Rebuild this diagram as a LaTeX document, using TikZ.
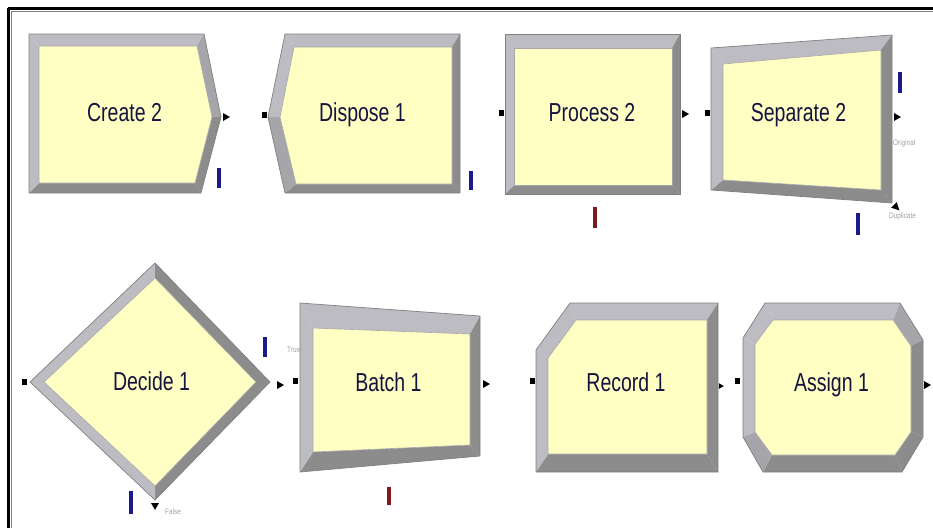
\documentclass[tikz,border=0pt]{standalone}
\usepackage{fontspec}
\usepackage{graphicx}
\setmainfont{Liberation Sans}
\definecolor{bevlite}{HTML}{BCBCC2}
\definecolor{bevmid}{HTML}{A6A6AA}
\definecolor{bevdark}{HTML}{8C8C8C}
\definecolor{facey}{HTML}{FFFFC4}
\definecolor{rimg}{HTML}{808080}
\definecolor{labelc}{HTML}{14143E}
\definecolor{barblue}{HTML}{1A1A8C}
\definecolor{barred}{HTML}{7A1C1C}
\definecolor{tinyg}{HTML}{A0A0A0}
\newcommand\modfont{\fontsize{26}{26}\selectfont}
\newcommand\mlab[1]{\scalebox{0.75}[1]{#1}}
\newcommand\tlab[1]{\scalebox{0.8}[1]{#1}}
\tikzset{
  lite/.style={fill=bevlite},
  mid/.style={fill=bevmid},
  dark/.style={fill=bevdark},
  face/.style={fill=facey, draw=bevmid, line width=0.6pt},
  rim/.style={draw=rimg, line width=0.7pt},
  modlabel/.style={anchor=base, text=labelc, font=\modfont, inner sep=0pt},
  portlabel/.style={anchor=west, text=tinyg, font=\fontsize{8}{8}\selectfont, inner sep=0pt},
  inport/.style={fill=black, draw=none, minimum width=5pt, minimum height=6pt, inner sep=0pt},
  pics/outarrow/.style={code={\fill[black] (-3,-4) -- (4,0) -- (-3,4) -- cycle;}},
  pics/downarrow/.style={code={\fill[black] (-4,-3) -- (4,-3) -- (0,4) -- cycle;}},
  pics/slantarrow/.style={code={\fill[black] (0.7,-4.9) -- (3.4,3.4) -- (-4.9,0.7) -- cycle;}},
  bluebar/.style={draw=barblue, line width=3.5pt},
  redbar/.style={draw=barred, line width=3.5pt},
}
\begin{document}
\begin{tikzpicture}[x=1pt,y=-1pt]
\useasboundingbox (0,0) rectangle (933,528);

% window frame
\draw[black, line width=2.5pt] (8,8.5) -- (933,8.5);
\draw[black, line width=2.5pt] (8.5,8) -- (8.5,528);
\draw[gray, line width=0.8pt] (11,11.5) -- (933,11.5);
\draw[gray, line width=0.8pt] (11.5,11) -- (11.5,528);

% ---------------- Create 2 ----------------
\fill[lite] (29,34) -- (204,34) -- (197,46) -- (39,46) -- cycle;
\fill[mid]  (204,34) -- (221,117) -- (212,117) -- (197,46) -- cycle;
\fill[dark] (221,117) -- (201,193) -- (195,183) -- (212,117) -- cycle;
\fill[dark] (201,193) -- (29,193) -- (39,183) -- (195,183) -- cycle;
\fill[lite] (29,193) -- (29,34) -- (39,46) -- (39,183) -- cycle;
\draw[face] (39,46) -- (197,46) -- (212,117) -- (195,183) -- (39,183) -- cycle;
\draw[rim] (29,34) -- (204,34) -- (221,117) -- (201,193) -- (29,193) -- cycle;
\node[modlabel] (create) at (124.5,121) {\mlab{Create 2}};
\coordinate (createout) at (226,117);
\pic at (createout) {outarrow};
\draw[bluebar] (219,168) -- (219,188);

% ---------------- Dispose 1 ----------------
\fill[lite] (285,34) -- (460,34) -- (452,47) -- (294,47) -- cycle;
\fill[dark] (460,34) -- (460,193) -- (452,184) -- (452,47) -- cycle;
\fill[dark] (460,193) -- (285,193) -- (296,184) -- (452,184) -- cycle;
\fill[mid]  (285,193) -- (268,117) -- (280,117) -- (296,184) -- cycle;
\fill[lite] (268,117) -- (285,34) -- (294,47) -- (280,117) -- cycle;
\draw[face] (294,47) -- (452,47) -- (452,184) -- (296,184) -- (280,117) -- cycle;
\draw[rim] (285,34) -- (460,34) -- (460,193) -- (285,193) -- (268,117) -- cycle;
\node[modlabel] (dispose) at (362.5,121) {\mlab{Dispose 1}};
\node[inport] (disposein) at (264.5,115) {};
\draw[bluebar] (471,171) -- (471,190);

% ---------------- Process 2 ----------------
\fill[lite] (505,34) -- (680,34) -- (672,48) -- (514,48) -- cycle;
\fill[dark] (680,34) -- (680,194) -- (672,185) -- (672,48) -- cycle;
\fill[dark] (680,194) -- (505,194) -- (514,185) -- (672,185) -- cycle;
\fill[lite] (505,194) -- (505,34) -- (514,48) -- (514,185) -- cycle;
\draw[face] (514,48) -- (672,48) -- (672,185) -- (514,185) -- cycle;
\draw[rim] (505,34) rectangle (680,194);
\node[modlabel] (process) at (592,121) {\mlab{Process 2}};
\node[inport] (processin) at (501,113) {};
\coordinate (processout) at (685,114);
\pic at (processout) {outarrow};
\draw[redbar] (595,207) -- (595,228);

% ---------------- Separate 2 ----------------
\fill[lite] (711,48) -- (892,35) -- (881,50) -- (723,64) -- cycle;
\fill[dark] (892,35) -- (892,203) -- (881,190) -- (881,50) -- cycle;
\fill[dark] (892,203) -- (711,190) -- (723,180) -- (881,190) -- cycle;
\fill[lite] (711,190) -- (711,48) -- (723,64) -- (723,180) -- cycle;
\draw[face] (723,64) -- (881,50) -- (881,190) -- (723,180) -- cycle;
\draw[rim] (711,48) -- (892,35) -- (892,203) -- (711,190) -- cycle;
\node[modlabel] (separate) at (798.5,121) {\mlab{Separate 2}};
\node[inport] (separatein) at (707.5,113) {};
\coordinate (separateorig) at (897,117);
\pic at (separateorig) {outarrow};
\coordinate (separatedup) at (896,207);
\pic at (separatedup) {slantarrow};
\node[portlabel] (origlbl) at (893,143) {\tlab{Original}};
\node[portlabel] (duplbl) at (889,216) {\tlab{Duplicate}};
\draw[bluebar] (900,72) -- (900,93);
\draw[bluebar] (858,213) -- (858,235);

% ---------------- Decide 1 ----------------
\node[portlabel] (truelbl) at (287,350) {\tlab{True}};
\fill[lite] (30,382) -- (155,263) -- (155,278) -- (44,382) -- cycle;
\fill[dark] (155,263) -- (270,382) -- (256,382) -- (155,278) -- cycle;
\fill[dark] (270,382) -- (155,500) -- (155,486) -- (256,382) -- cycle;
\fill[lite] (155,500) -- (30,382) -- (44,382) -- (155,486) -- cycle;
\draw[face] (44,382) -- (155,278) -- (256,382) -- (155,486) -- cycle;
\draw[rim] (30,382) -- (155,263) -- (270,382) -- (155,500) -- cycle;
\node[modlabel] (decide) at (151.5,390) {\mlab{Decide 1}};
\node[inport] (decidein) at (24.5,382) {};
\coordinate (decidetrue) at (280,385);
\pic at (decidetrue) {outarrow};
\coordinate (decidefalse) at (155,506);
\pic at (decidefalse) {downarrow};
\node[portlabel] (falselbl) at (165,512) {\tlab{False}};
\draw[bluebar] (265,337) -- (265,357);
\draw[bluebar] (131,491) -- (131,514);

% ---------------- Batch 1 ----------------
\fill[lite] (300,303) -- (480,316) -- (470,334) -- (313,328) -- cycle;
\fill[dark] (480,316) -- (480,456) -- (470,445) -- (470,334) -- cycle;
\fill[dark] (480,456) -- (300,472) -- (313,452) -- (470,445) -- cycle;
\fill[lite] (300,472) -- (300,303) -- (313,328) -- (313,452) -- cycle;
\draw[face] (313,328) -- (470,334) -- (470,445) -- (313,452) -- cycle;
\draw[rim] (300,303) -- (480,316) -- (480,456) -- (300,472) -- cycle;
\node[modlabel] (batch) at (388.5,391) {\mlab{Batch 1}};
\node[inport] (batchin) at (295.5,381) {};
\coordinate (batchout) at (486,384);
\pic at (batchout) {outarrow};
\draw[redbar] (389,487) -- (389,505);

% ---------------- Record 1 ----------------
\fill[lite] (536,350) -- (570,303) -- (576,320) -- (548,358) -- cycle;
\fill[lite] (570,303) -- (718,303) -- (707,320) -- (576,320) -- cycle;
\fill[dark] (718,303) -- (718,472) -- (707,454) -- (707,320) -- cycle;
\fill[dark] (718,472) -- (536,472) -- (548,454) -- (707,454) -- cycle;
\fill[lite] (536,472) -- (536,350) -- (548,358) -- (548,454) -- cycle;
\draw[face] (548,358) -- (576,320) -- (707,320) -- (707,454) -- (548,454) -- cycle;
\draw[rim] (536,350) -- (570,303) -- (718,303) -- (718,472) -- (536,472) -- cycle;
\node[modlabel] (record) at (626,391) {\mlab{Record 1}};
\node[inport] (recordin) at (532,381) {};
\coordinate (recordout) at (721,386);
\pic[scale=0.7] at (recordout) {outarrow};

% ---------------- Assign 1 ----------------
\fill[lite] (743,338) -- (765,303) -- (773,320) -- (755,344) -- cycle;
\fill[lite] (765,303) -- (900,303) -- (893,320) -- (773,320) -- cycle;
\fill[mid]  (900,303) -- (923,340) -- (911,346) -- (893,320) -- cycle;
\fill[dark] (923,340) -- (923,437) -- (911,432) -- (911,346) -- cycle;
\fill[dark] (923,437) -- (902,472) -- (895,455) -- (911,432) -- cycle;
\fill[dark] (902,472) -- (763,472) -- (772,455) -- (895,455) -- cycle;
\fill[mid]  (763,472) -- (743,437) -- (755,432) -- (772,455) -- cycle;
\fill[lite] (743,437) -- (743,338) -- (755,344) -- (755,432) -- cycle;
\draw[face] (755,344) -- (773,320) -- (893,320) -- (911,346) -- (911,432) -- (895,455) -- (772,455) -- (755,432) -- cycle;
\draw[rim] (743,338) -- (765,303) -- (900,303) -- (923,340) -- (923,437) -- (902,472) -- (763,472) -- (743,437) -- cycle;
\node[modlabel] (assign) at (831.5,391) {\mlab{Assign 1}};
\node[inport] (assignin) at (737,381) {};
\coordinate (assignout) at (927,385);
\pic at (assignout) {outarrow};
\end{tikzpicture}
\end{document}
